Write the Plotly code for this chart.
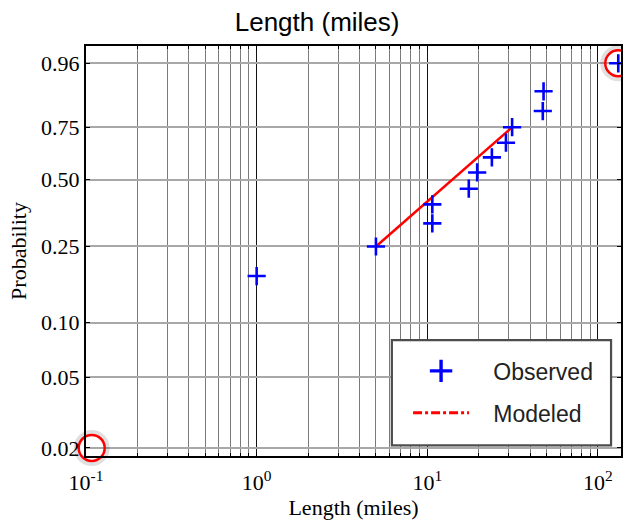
import numpy as np
import plotly.graph_objects as go

# ---- data ----
obs_length = [1.0, 5.0, 10.7, 10.7, 17.5, 19.6, 23.9, 28.9, 31.4, 47.5, 48.0, 131.5]
obs_prob = [0.177, 0.25, 0.323, 0.394, 0.46, 0.534, 0.606, 0.677, 0.75, 0.82, 0.892, 0.96]
model_length = [5.0, 31.4]
model_prob = [0.25, 0.75]
highlight_length = [0.108, 131.5]
highlight_prob = [0.02, 0.96]
prob_ticks = [0.02, 0.05, 0.10, 0.25, 0.50, 0.75, 0.96]
prob_ticktext = ["0.02", "0.05", "0.10", "0.25", "0.50", "0.75", "0.96"]
x_major = [0.1, 1, 10, 100]
x_major_text = ["10<sup>-1</sup>", "10<sup>0</sup>", "10<sup>1</sup>", "10<sup>2</sup>"]
x_minor = [m * d for d in [0.1, 1, 10, 100] for m in range(2, 10)]


def wb(p):
    p = np.asarray(p, dtype=float)
    return np.log(-np.log(1 - p))


serif = "Liberation Serif"
sans = "Liberation Sans"
NB = "\u00a0"

fig = go.Figure()

# highlight circles (with faint shadow)
fig.add_trace(go.Scatter(
    x=highlight_length, y=wb(highlight_prob), mode="markers",
    marker=dict(symbol="circle-open", size=30, color="rgba(0,0,0,0.12)",
                line=dict(width=6, color="rgba(0,0,0,0.12)")),
    showlegend=False, hoverinfo="skip", cliponaxis=False))

fig.add_trace(go.Scatter(
    x=model_length, y=wb(model_prob), mode="lines",
    line=dict(color="#ff0000", width=2.5), showlegend=False))

fig.add_trace(go.Scatter(
    x=obs_length, y=wb(obs_prob), mode="markers",
    marker=dict(symbol="cross-thin", size=13, color="#0000ff",
                line=dict(width=2.6, color="#0000ff")),
    showlegend=False, cliponaxis=False))

fig.add_trace(go.Scatter(
    x=highlight_length, y=wb(highlight_prob), mode="markers",
    marker=dict(symbol="circle-open", size=26, color="#ff0000",
                line=dict(width=2.5, color="#ff0000")),
    showlegend=False, hoverinfo="skip", cliponaxis=False))

# legend entries
fig.add_trace(go.Scatter(
    x=[None], y=[None], mode="markers", name=NB * 3 + "Observed",
    legendgroup="a",
    marker=dict(symbol="cross-thin", size=26, color="#0000ff",
                line=dict(width=3.4, color="#0000ff"))))
fig.add_trace(go.Scatter(
    x=[None], y=[None], mode="lines", name=NB * 3 + "Modeled",
    legendgroup="b",
    line=dict(color="#ff0000", width=3, dash="dashdot")))

# legend frame
fig.add_shape(type="rect", xref="paper", yref="paper",
              x0=0.5717, x1=0.9814, y0=0.0261, y1=0.2824,
              line=dict(color="#4d4d4d", width=2.2), fillcolor="white",
              layer="above")

fig.update_layout(
    width=623, height=525,
    margin=dict(l=86, r=0, t=46, b=69),
    paper_bgcolor="white", plot_bgcolor="white",
    title=dict(text="Length (miles)", x=0.509, xanchor="center",
               y=1 - 22 / 525, yanchor="middle", yref="container",
               font=dict(family=sans, size=26, color="black")),
    legend=dict(x=0.602, y=0.26, xanchor="left", yanchor="top",
                bgcolor="rgba(0,0,0,0)", borderwidth=0,
                font=dict(family=sans, size=23, color="#222222"),
                itemwidth=56, tracegroupgap=9, traceorder="grouped"),
    showlegend=True,
)

fig.update_xaxes(
    type="log", range=[-1, 2.135],
    tickmode="array", tickvals=x_major, ticktext=x_major_text,
    tickfont=dict(family=serif, size=22, color="black"),
    ticks="inside", ticklen=4, tickcolor="black",
    ticklabelstandoff=6,
    showgrid=True, gridcolor="#111111", gridwidth=1,
    minor=dict(tickmode="array", tickvals=x_minor, showgrid=True,
               gridcolor="#7a7a7a", gridwidth=1, ticks="inside", ticklen=3,
               tickcolor="black"),
    showline=True, linecolor="black", linewidth=2, mirror="allticks",
    zeroline=False,
    title=dict(text="Length (miles)", font=dict(family=serif, size=22, color="black"),
               standoff=3),
)

fig.update_yaxes(
    range=[-4.008, 1.397],
    tickmode="array", tickvals=wb(prob_ticks), ticktext=prob_ticktext,
    tickfont=dict(family=serif, size=22, color="black"),
    ticks="inside", ticklen=4, tickcolor="black",
    showgrid=True, gridcolor="#a8a8a8", gridwidth=2,
    showline=True, linecolor="black", linewidth=2, mirror="allticks",
    zeroline=False,
    title=dict(text="Probability", font=dict(family=serif, size=22, color="black"),
               standoff=8),
)

fig.write_html("out.html")
